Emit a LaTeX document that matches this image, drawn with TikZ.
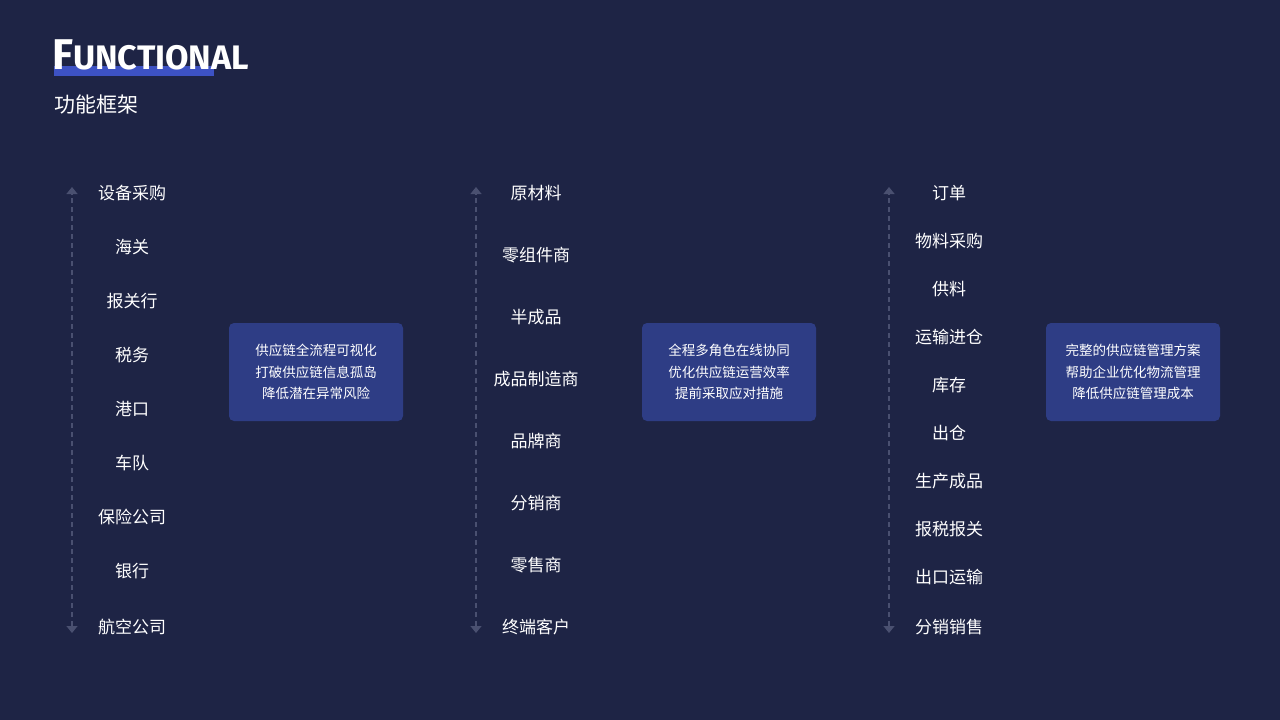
\documentclass[tikz,border=0pt]{standalone}
\usepackage{fontspec}
\setmainfont{Noto Sans CJK SC}
\newfontfamily\titlefont{Fira Sans}
\usetikzlibrary{arrows.meta}
\definecolor{bgnavy}{HTML}{1E2445}
\definecolor{boxblue}{HTML}{2E3D85}
\definecolor{barblue}{HTML}{3D52C4}
\definecolor{axisgray}{HTML}{4A5070}
\begin{document}
\begin{tikzpicture}[x=1pt,y=-1pt]
\tikzstyle{every node} = [text=white, font=\fontsize{17}{20}\selectfont]
\tikzstyle{note} = [fill=boxblue, rounded corners=5pt, minimum width=174pt, minimum height=98pt, align=center, font=\fontsize{13.5}{21.5}\selectfont]
\tikzstyle{axis} = [axisgray, line width=1.3pt, dash pattern=on 5pt off 4pt, {Triangle[width=11pt,length=7pt]}-{Triangle[width=11pt,length=7pt]}]
\fill[bgnavy] (0,0) rectangle (1280,720);
\fill[barblue] (54,66) rectangle (214,76);
\node[anchor=base west, inner sep=0pt, font=\titlefont\bfseries\fontsize{34}{34}\selectfont] (title) at (52,69) {{\fontsize{43}{43}\selectfont F}UNCTIONAL};
\node[anchor=west, inner sep=0pt, font=\fontsize{21}{24}\selectfont] (subtitle) at (54,105) {功能框架};

% column 1
\coordinate (a1top) at (72,187);
\coordinate (a1bot) at (72,633);
\draw[axis] (a1bot) -- (a1top);
\node (equip) at (132,193) {设备采购};
\node (customs) at (132,247) {海关};
\node (broker) at (132,301) {报关行};
\node (tax) at (132,355) {税务};
\node (port) at (132,409) {港口};
\node (fleet) at (132,463) {车队};
\node (insure) at (132,517) {保险公司};
\node (bank) at (132,571) {银行};
\node (airline) at (132,627) {航空公司};
\node[note] (note1) at (316,372) {供应链全流程可视化\\打破供应链信息孤岛\\降低潜在异常风险};

% column 2
\coordinate (a2top) at (476,187);
\coordinate (a2bot) at (476,633);
\draw[axis] (a2bot) -- (a2top);
\node (raw) at (536,193) {原材料};
\node (parts) at (536,255) {零组件商};
\node (semi) at (536,317) {半成品};
\node (maker) at (536,379) {成品制造商};
\node (brand) at (536,441) {品牌商};
\node (distrib) at (536,503) {分销商};
\node (retail) at (536,565) {零售商};
\node (client) at (536,627) {终端客户};
\node[note] (note2) at (729,372) {全程多角色在线协同\\优化供应链运营效率\\提前采取应对措施};

% column 3
\coordinate (a3top) at (889,187);
\coordinate (a3bot) at (889,633);
\draw[axis] (a3bot) -- (a3top);
\node (order) at (949,193) {订单};
\node (purchase) at (949,241) {物料采购};
\node (supply) at (949,289) {供料};
\node (inbound) at (949,337) {运输进仓};
\node (stock) at (949,385) {库存};
\node (outbound) at (949,433) {出仓};
\node (produce) at (949,481) {生产成品};
\node (declare) at (949,529) {报税报关};
\node (export) at (949,577) {出口运输};
\node (sales) at (949,627) {分销销售};
\node[note] (note3) at (1133,372) {完整的供应链管理方案\\帮助企业优化物流管理\\降低供应链管理成本};
\end{tikzpicture}
\end{document}
